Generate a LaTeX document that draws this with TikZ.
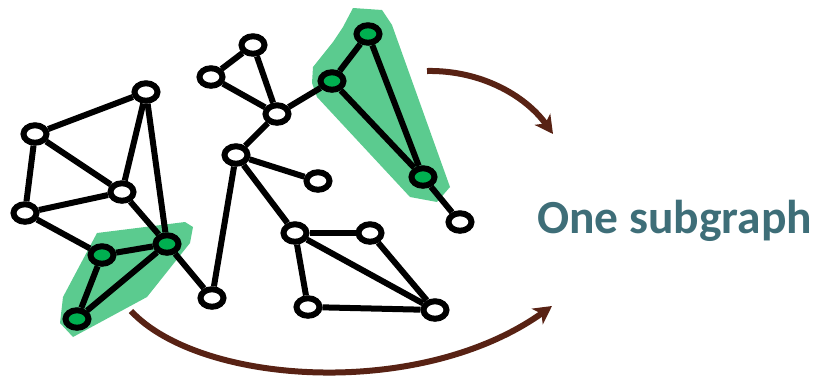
\documentclass[tikz,border=0pt]{standalone}
\usepackage{fontspec}
\setmainfont{Carlito}
\usetikzlibrary{arrows.meta,shapes.geometric}
\definecolor{hlgreen}{RGB}{91,203,143}
\definecolor{ndgreen}{RGB}{0,176,80}
\definecolor{arrbrown}{RGB}{88,34,20}
\definecolor{txtteal}{RGB}{62,110,120}
\tikzset{
  vtx/.style={ellipse,draw=black,line width=6pt,fill=white,minimum width=23pt,minimum height=17.5pt,inner sep=0pt},
  gvtx/.style={vtx,fill=ndgreen},
  edge/.style={line width=6pt,draw=black},
  hl/.style={fill=hlgreen,draw=none},
  bigarrow/.style={line width=6pt,draw=arrbrown,-{Stealth[length=18pt,width=19pt,inset=5pt]}},
}
\begin{document}
\begin{tikzpicture}[x=1pt,y=-1pt]
\useasboundingbox (0,0) rectangle (817,381);
% highlight regions
\fill[hl] (97,233) -- (185,222) -- (193,227) -- (190,243) -- (147,297) -- (73,337) -- (60,323) -- (63,297) -- cycle;
\fill[hl] (353,8) -- (382,10) -- (392,25) -- (450,187) -- (437,202) -- (410,197) -- (317,97) -- (312,83) -- (313,67) -- (333,42) -- (343,27) -- cycle;
% nodes
\node[vtx] (A) at (146,92) {};
\node[vtx] (B) at (35,134) {};
\node[vtx] (C) at (122,192) {};
\node[vtx] (D) at (25,213) {};
\node[gvtx] (E) at (102,255) {};
\node[gvtx] (F) at (167,244) {};
\node[gvtx] (G) at (77,319) {};
\node[vtx] (H) at (212,298) {};
\node[vtx] (I) at (253,45) {};
\node[vtx] (J) at (211,77) {};
\node[vtx] (K) at (277,114) {};
\node[vtx] (L) at (236,155) {};
\node[vtx] (M) at (318,181) {};
\node[gvtx] (N) at (368,34) {};
\node[gvtx] (O) at (332,81) {};
\node[gvtx] (P) at (423,177) {};
\node[vtx] (Q) at (460,222) {};
\node[vtx] (R) at (295,233) {};
\node[vtx] (S) at (370,233) {};
\node[vtx] (T) at (308,307) {};
\node[vtx] (U) at (435,310) {};
% edges
\foreach \a/\b in {A/B,A/C,A/F,B/C,B/D,D/C,D/E,C/F,E/F,E/G,G/F,F/H,H/L,
  I/J,I/K,J/K,K/O,K/L,L/M,L/R,O/N,N/P,O/P,P/Q,R/S,R/T,R/U,S/U,T/U}
  \draw[edge] (\a) -- (\b);
% arrows
\coordinate (a1s) at (427,71);
\coordinate (a1e) at (553,134);
\coordinate (a2s) at (131,311);
\coordinate (a2e) at (552,306);
\draw[bigarrow] (a1s) .. controls (480,70) and (525,95) .. (a1e);
\draw[bigarrow] (a2s) .. controls (200,385) and (420,400) .. (a2e);
% label
\node[anchor=base west,inner sep=0pt,text=txtteal,font=\fontsize{47.5}{50}\selectfont\bfseries] (lbl) at (537,233) {One subgraph};
\end{tikzpicture}
\end{document}
